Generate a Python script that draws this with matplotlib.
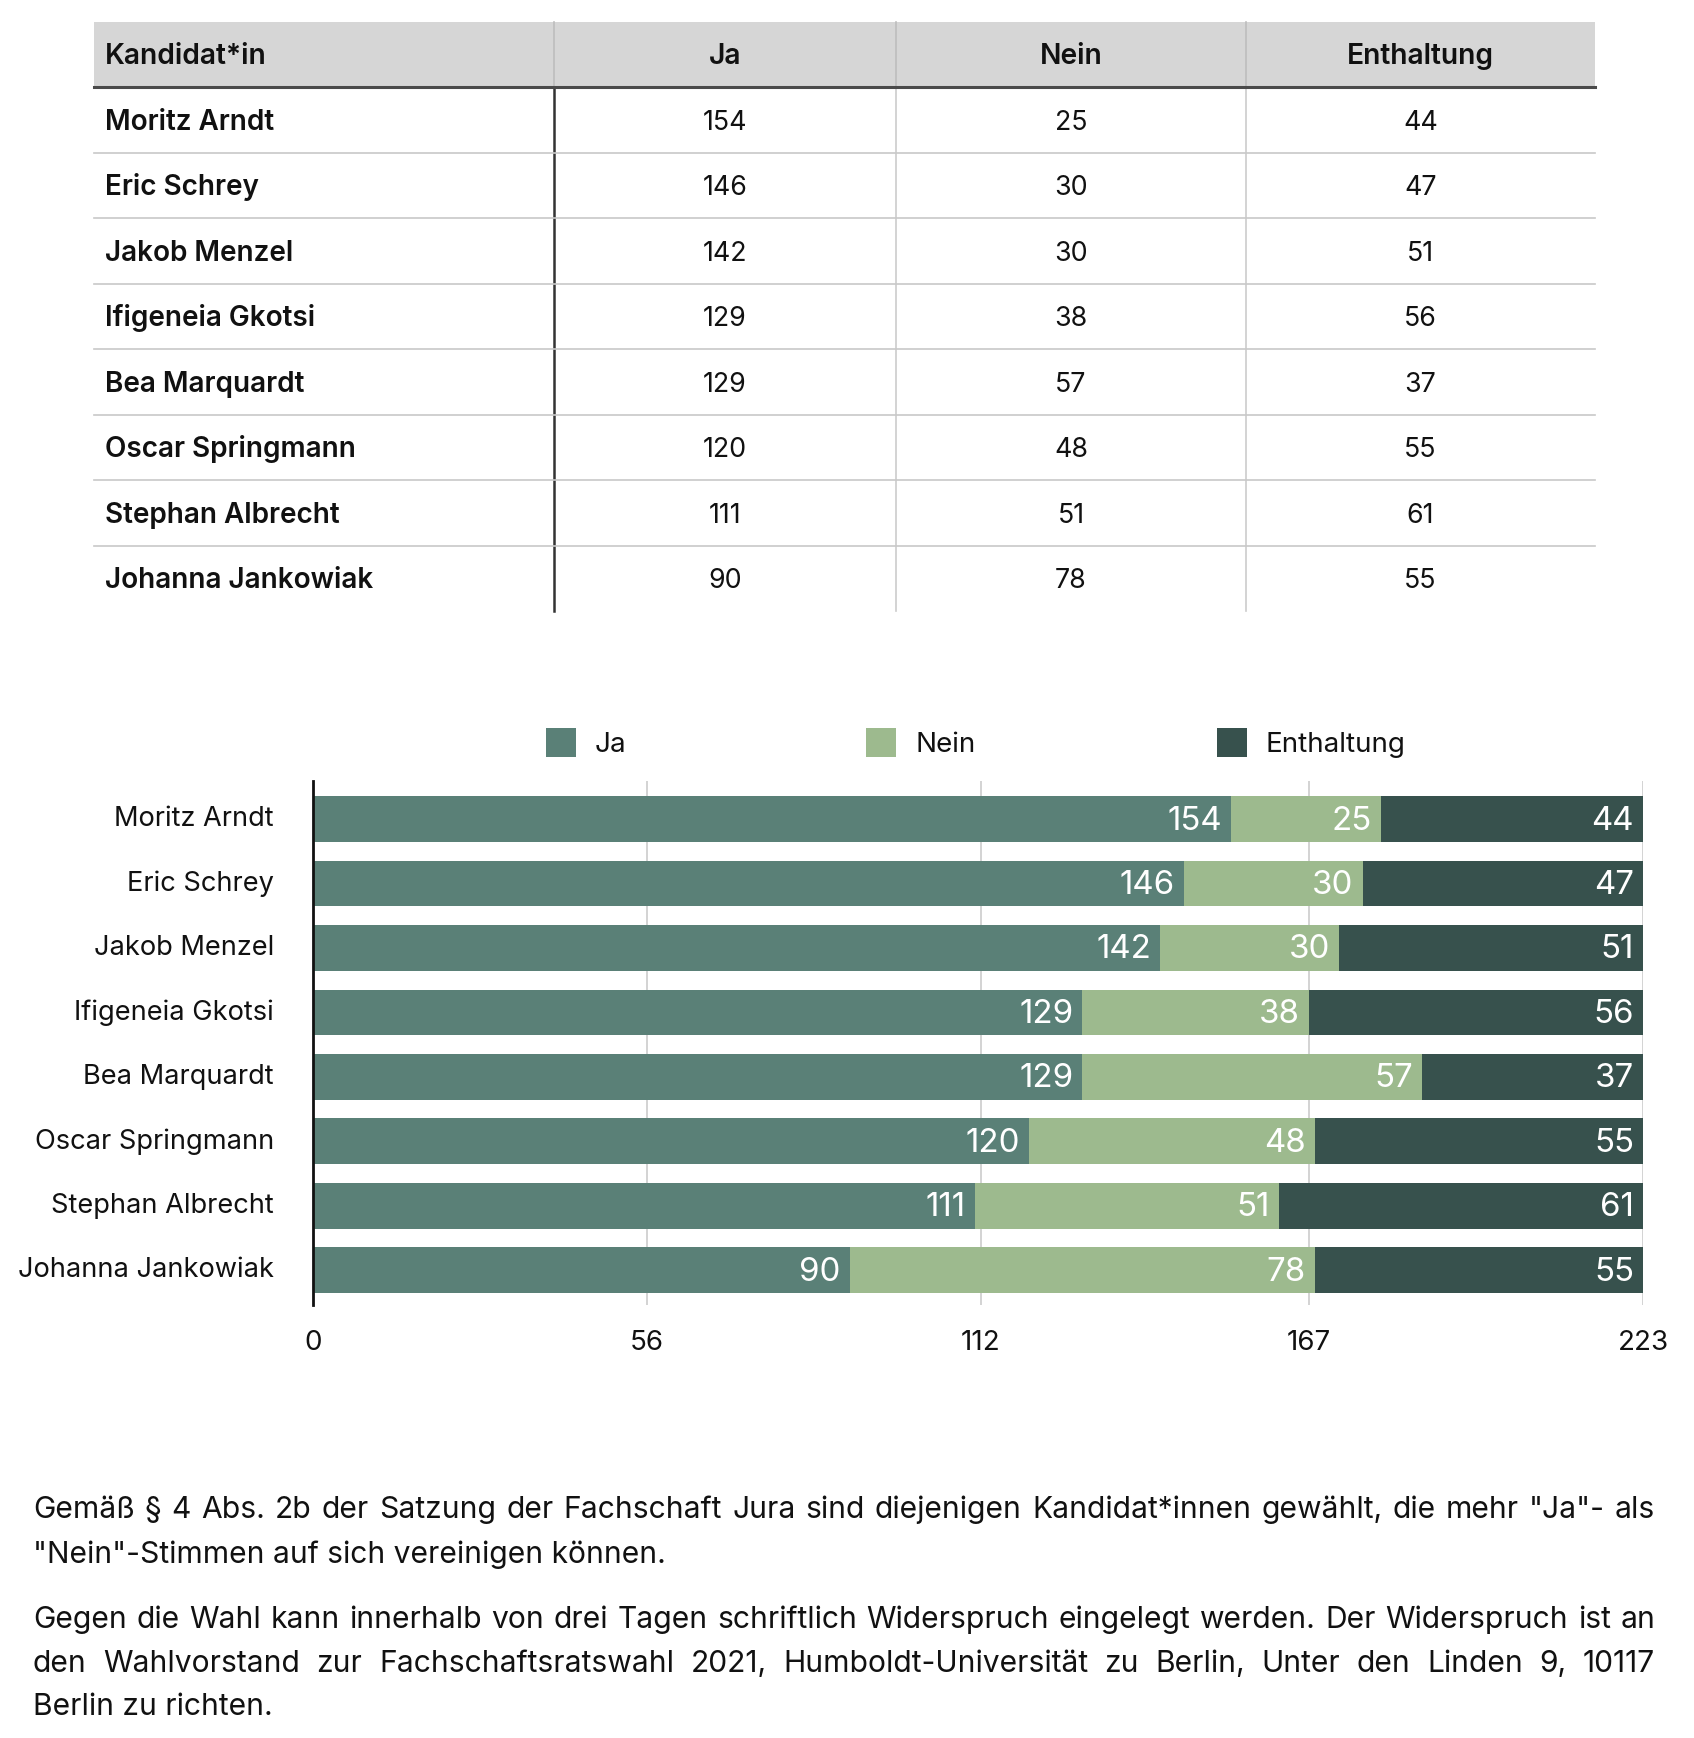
import matplotlib
matplotlib.use("Agg")
import matplotlib.pyplot as plt
from matplotlib.patches import Rectangle

plt.rcParams['font.family'] = ['Inter', 'DejaVu Sans']

# ---------------- data ----------------
candidates = ["Moritz Arndt", "Eric Schrey", "Jakob Menzel", "Ifigeneia Gkotsi",
              "Bea Marquardt", "Oscar Springmann", "Stephan Albrecht", "Johanna Jankowiak"]
ja = [154, 146, 142, 129, 129, 120, 111, 90]
nein = [25, 30, 30, 38, 57, 48, 51, 78]
enthaltung = [44, 47, 51, 56, 37, 55, 61, 55]
series_names = ["Ja", "Nein", "Enthaltung"]
table_header = ["Kandidat*in", "Ja", "Nein", "Enthaltung"]
x_ticks = [0, 56, 112, 167, 223]
x_ticklabels = ["0", "56", "112", "167", "223"]
footer_par1 = [
    'Gemäß § 4 Abs. 2b der Satzung der Fachschaft Jura sind diejenigen Kandidat*innen gewählt, die mehr "Ja"- als',
    '"Nein"-Stimmen auf sich vereinigen können.',
]
footer_par2 = [
    'Gegen die Wahl kann innerhalb von drei Tagen schriftlich Widerspruch eingelegt werden. Der Widerspruch ist an',
    'den Wahlvorstand zur Fachschaftsratswahl 2021, Humboldt-Universität zu Berlin, Unter den Linden 9, 10117',
    'Berlin zu richten.',
]

colors = ["#5a8077", "#9dba8e", "#37514d"]
TEXT = "#111111"

W, H = 1694, 1738
fig = plt.figure(figsize=(W / 100, H / 100), dpi=100)
fig.patch.set_facecolor("white")

# overlay axes in pixel coordinates
ov = fig.add_axes([0, 0, 1, 1], zorder=0)
ov.set_xlim(0, W)
ov.set_ylim(H, 0)
ov.axis("off")

# ---------------- table ----------------
col_edges = [94, 554, 896, 1246, 1595]
head_top, head_bot = 22, 87
row_h = 65.5
n = len(candidates)
tab_bot = head_bot + row_h * n

ov.add_patch(Rectangle((col_edges[0], head_top), col_edges[-1] - col_edges[0],
                       head_bot - head_top, facecolor="#d6d6d6", edgecolor="none"))
for xe in col_edges[1:-1]:
    ov.plot([xe, xe], [head_top, head_bot], color="#bdbdbd", lw=1.2)
for i, xe in enumerate(col_edges[1:-1]):
    ov.plot([xe, xe], [head_bot, tab_bot], color="#333333" if i == 0 else "#cccccc",
            lw=1.8 if i == 0 else 1.2)
for r in range(1, n):
    yy = head_bot + row_h * r
    ov.plot([col_edges[0], col_edges[-1]], [yy, yy], color="#c8c8c8", lw=1.2)
ov.plot([col_edges[0], col_edges[-1]], [head_bot, head_bot], color="#4a4a4a", lw=2.2)

def cell_text(text, col, yc, bold, fs):
    if col == 0:
        x, ha = col_edges[0] + 11, "left"
    else:
        x, ha = (col_edges[col] + col_edges[col + 1]) / 2, "center"
    ov.text(x, yc + 10, text, ha=ha, va="baseline", fontsize=fs, color=TEXT,
            fontweight=600 if bold else "normal")

for c, h in enumerate(table_header):
    cell_text(h, c, (head_top + head_bot) / 2 - 1, True, 20.3)
for r in range(n):
    yc = head_bot + row_h * (r + 0.5)
    cell_text(candidates[r], 0, yc, True, 20.1)
    cell_text(str(ja[r]), 1, yc, False, 19.3)
    cell_text(str(nein[r]), 2, yc, False, 19.3)
    cell_text(str(enthaltung[r]), 3, yc, False, 19.3)

# ---------------- legend ----------------
leg_sq_x = [546, 866, 1217]
for sx, name, col in zip(leg_sq_x, series_names, colors):
    ov.add_patch(Rectangle((sx, 728), 30, 29, facecolor=col, edgecolor="none"))
    ov.text(sx + 49, 752, name, ha="left", va="baseline", fontsize=20, color=TEXT)

# ---------------- bar chart ----------------
ax_l, ax_r, ax_t, ax_b = 313, 1643, 781, 1305
ax = fig.add_axes([ax_l / W, 1 - ax_b / H, (ax_r - ax_l) / W, (ax_b - ax_t) / H], zorder=2)
ax.patch.set_alpha(0)
ypos = list(range(n))
lefts = [0] * n
for vals, col in zip([ja, nein, enthaltung], colors):
    ax.barh(ypos, vals, left=lefts, height=0.71, color=col, edgecolor="none", zorder=3)
    for i, v in enumerate(vals):
        ax.annotate(str(v), xy=(lefts[i] + v, i), xytext=(-6.5, -7.6),
                    textcoords="offset points", ha="right", va="baseline",
                    color="white", fontsize=23.8, zorder=4)
    lefts = [a + b for a, b in zip(lefts, vals)]

ax.set_xlim(0, 223)
ax.set_ylim(7.54, -0.59)
ax.set_yticks([])
ax.set_xticks(x_ticks)
ax.set_xticklabels([])
ax.tick_params(axis="x", length=0)
# category labels
for i, name in enumerate(candidates):
    ax.annotate(name, xy=(0, i), xycoords=("axes fraction", "data"), xytext=(-28, -5.2),
                textcoords="offset points", ha="right", va="baseline",
                fontsize=19.6, color=TEXT, annotation_clip=False)
# x tick labels
for tv, tl in zip(x_ticks, x_ticklabels):
    ax.annotate(tl, xy=(tv, 0), xycoords=("data", "axes fraction"), xytext=(0, -32.4),
                textcoords="offset points", ha="center", va="baseline",
                fontsize=20, color=TEXT, annotation_clip=False)
ax.grid(axis="x", color="#cccccc", lw=1.2, zorder=0)
ax.set_axisbelow(True)
for s in ["top", "right", "bottom"]:
    ax.spines[s].set_visible(False)
ax.spines["left"].set_color("#111111")
ax.spines["left"].set_linewidth(2)
ax.spines["left"].set_zorder(5)

# ---------------- footer (justified) ----------------
renderer = fig.canvas.get_renderer()
X0, X1 = 33, 1655
FS_F = 21.6

def draw_line(line, y, justify):
    if not justify:
        ov.text(X0, y, line, ha="left", va="baseline", fontsize=FS_F, color=TEXT)
        return
    words = line.split(" ")
    texts = [ov.text(0, y, w, ha="left", va="baseline", fontsize=FS_F, color=TEXT) for w in words]
    widths = [t.get_window_extent(renderer).width for t in texts]
    gap = (X1 - X0 - sum(widths)) / (len(words) - 1)
    x = X0
    for t, w in zip(texts, widths):
        t.set_x(x)
        x += w + gap

draw_line(footer_par1[0], 1518, True)
draw_line(footer_par1[1], 1563, False)
draw_line(footer_par2[0], 1628, True)
draw_line(footer_par2[1], 1672, True)
draw_line(footer_par2[2], 1715, False)

fig.savefig("out.png", dpi=100)
